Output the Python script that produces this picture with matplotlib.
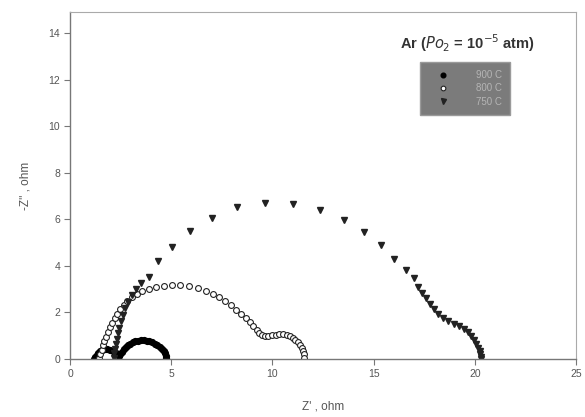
import matplotlib
matplotlib.use("Agg")
import matplotlib.pyplot as plt

plt.rcParams['font.family'] = ['Liberation Sans', 'DejaVu Sans']

# 900 C: two small arcs near the origin
z_re_900 = [1.20, 1.25, 1.32, 1.40, 1.50, 1.60, 1.72, 1.85, 1.98, 2.10, 2.22, 2.32,
            2.40, 2.48, 2.56, 2.65, 2.75, 2.86, 2.98, 3.10, 3.23, 3.36, 3.50, 3.64,
            3.78, 3.92, 4.06, 4.20, 4.32, 4.44, 4.54, 4.62, 4.68, 4.72, 4.74]
z_im_900 = [0.02, 0.10, 0.18, 0.26, 0.33, 0.38, 0.41, 0.42, 0.40, 0.35, 0.28, 0.20,
            0.15, 0.22, 0.32, 0.42, 0.51, 0.59, 0.66, 0.72, 0.76, 0.79, 0.80, 0.80,
            0.79, 0.76, 0.72, 0.66, 0.59, 0.51, 0.42, 0.33, 0.24, 0.14, 0.05]

# 800 C
z_re_800 = [1.45, 1.50, 1.56, 1.63, 1.70, 1.78, 1.87, 1.97, 2.08, 2.20, 2.33, 2.48,
            2.65, 2.84, 3.05, 3.30, 3.58, 3.90, 4.25, 4.62, 5.02, 5.45, 5.88, 6.30,
            6.70, 7.05, 7.38, 7.68, 7.96, 8.22, 8.46, 8.68, 8.88, 9.06, 9.22, 9.36,
            9.50, 9.64, 9.80, 9.98, 10.16, 10.34, 10.52, 10.70, 10.86, 11.00, 11.14,
            11.26, 11.36, 11.44, 11.50, 11.54, 11.56]
z_im_800 = [0.05, 0.22, 0.40, 0.58, 0.77, 0.96, 1.16, 1.36, 1.56, 1.76, 1.95, 2.14,
            2.33, 2.50, 2.65, 2.80, 2.92, 3.02, 3.10, 3.15, 3.17, 3.16, 3.12, 3.04,
            2.93, 2.80, 2.65, 2.48, 2.30, 2.12, 1.94, 1.76, 1.58, 1.41, 1.26, 1.13,
            1.04, 1.00, 0.99, 1.01, 1.04, 1.06, 1.06, 1.04, 0.99, 0.92, 0.83,
            0.72, 0.60, 0.47, 0.34, 0.20, 0.06]

# 750 C
z_re_750 = [2.15, 2.18, 2.22, 2.26, 2.31, 2.37, 2.44, 2.52, 2.62, 2.74, 2.88, 3.05,
            3.25, 3.50, 3.88, 4.37, 5.03, 5.94, 7.01, 8.25, 9.65, 11.02, 12.34, 13.53,
            14.52, 15.35, 16.00, 16.58, 17.00, 17.20, 17.40, 17.60, 17.80, 18.00,
            18.20, 18.45, 18.70, 18.95, 19.20, 19.45, 19.65, 19.82, 19.96, 20.08,
            20.17, 20.24, 20.28, 20.30, 20.30]
z_im_750 = [0.05, 0.25, 0.45, 0.65, 0.87, 1.10, 1.35, 1.62, 1.90, 2.18, 2.46, 2.74,
            3.00, 3.25, 3.52, 4.20, 4.81, 5.48, 6.07, 6.52, 6.69, 6.67, 6.41, 5.98,
            5.45, 4.88, 4.31, 3.81, 3.47, 3.10, 2.85, 2.60, 2.38, 2.15,
            1.95, 1.78, 1.63, 1.52, 1.41, 1.28, 1.14, 0.98, 0.82, 0.65,
            0.48, 0.33, 0.20, 0.09, 0.02]

labels = ["900 C", "800 C", "750 C"]

fig = plt.figure(figsize=(5.85, 4.17), dpi=100)
ax = fig.add_axes([70 / 585, 58 / 417, 506 / 585, 347 / 417])

ax.plot(z_re_900, z_im_900, ls="none", marker="o", ms=4.2, mfc="black", mec="black",
        label=labels[0])
ax.plot(z_re_800, z_im_800, ls="none", marker="o", ms=4.2, mfc="white", mec="#222222",
        mew=0.8, label=labels[1])
ax.plot(z_re_750, z_im_750, ls="none", marker="v", ms=4.5, mfc="#222222", mec="#222222",
        label=labels[2])

ax.set_xlim(0, 25)
ax.set_ylim(0, 14.9)
ax.set_xticks(range(0, 26, 5))
ax.set_yticks(range(0, 15, 2))

for side in ["left", "bottom"]:
    ax.spines[side].set_color("#777777")
    ax.spines[side].set_linewidth(1.0)
for side in ["top", "right"]:
    ax.spines[side].set_color("#aaaaaa")
    ax.spines[side].set_linewidth(0.8)

ax.tick_params(direction="out", length=4, width=0.8, color="#777777",
               labelsize=7.5, labelcolor="#555555", pad=3)

ax.set_xlabel("Z' , ohm", fontsize=8.5, color="#555555", labelpad=16)
ax.set_ylabel("-Z'' , ohm", fontsize=8.5, color="#555555", labelpad=12)

ax.text(0.785, 0.911, r"Ar ($\mathit{Po}_2$ = 10$^{-5}$ atm)", transform=ax.transAxes,
        ha="center", va="center", fontsize=10.5, fontweight="bold", color="#333333")

leg = ax.legend(loc="upper left", bbox_to_anchor=(350 / 506, 0.855), frameon=True,
                fancybox=False, fontsize=7, handletextpad=1.8, borderpad=0.8,
                labelspacing=0.35, handlelength=3.2, borderaxespad=0, markerscale=0.8)
leg.get_frame().set_facecolor("#7b7b7b")
leg.get_frame().set_edgecolor("#9a9a9a")
leg.get_frame().set_alpha(1)
for t in leg.get_texts():
    t.set_color("#b5b5b5")

fig.savefig("out.png", dpi=100, facecolor="white")
